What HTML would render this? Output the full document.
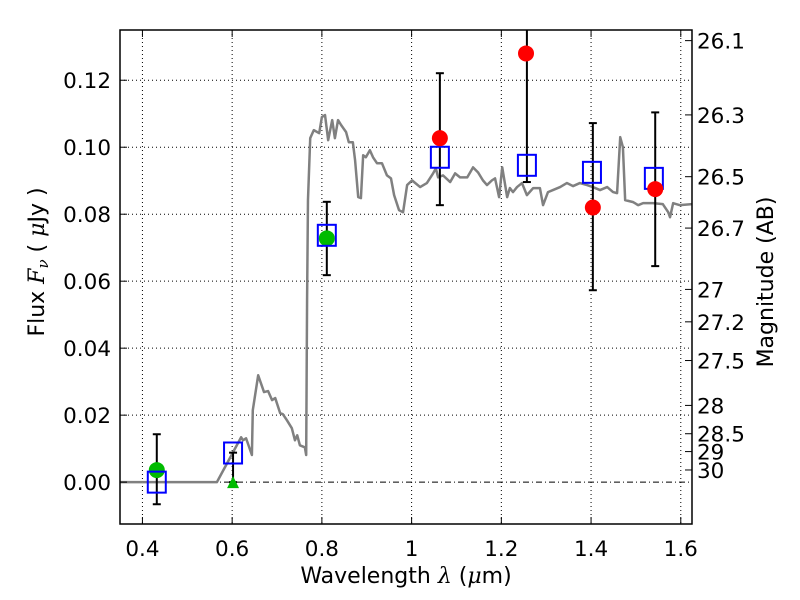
<!DOCTYPE html>
<html><head><meta charset="utf-8"><style>
html,body{margin:0;padding:0;background:#fff;}
svg{display:block;font-family:"DejaVu Sans","Liberation Sans",sans-serif;}
</style></head><body>
<svg id="chart" width="800" height="600" viewBox="0 0 800 600" xmlns="http://www.w3.org/2000/svg"></svg>
<script>
// ---- data ----
const specWave = [0.35,0.566,0.620,0.624,0.631,0.644,0.646,0.658,0.671,0.680,0.689,0.696,0.707,0.713,0.722,0.733,0.740,0.745,0.751,0.762,0.765,0.767,0.769,0.774,0.782,0.794,0.800,0.807,0.814,0.823,0.829,0.836,0.843,0.854,0.860,0.869,0.874,0.881,0.887,0.892,0.898,0.907,0.914,0.923,0.934,0.945,0.954,0.961,0.972,0.981,0.990,1.001,1.019,1.034,1.048,1.054,1.059,1.070,1.086,1.097,1.108,1.124,1.137,1.148,1.159,1.168,1.179,1.186,1.195,1.202,1.213,1.219,1.226,1.235,1.246,1.257,1.271,1.286,1.293,1.304,1.315,1.331,1.346,1.360,1.375,1.391,1.404,1.420,1.436,1.449,1.458,1.465,1.471,1.476,1.494,1.505,1.516,1.538,1.560,1.572,1.576,1.583,1.598,1.625];
const specFlux = [0,0,0.0134,0.0125,0.0131,0.0081,0.0215,0.0319,0.0269,0.0272,0.0245,0.0251,0.0206,0.0203,0.0185,0.0161,0.0125,0.014,0.011,0.0104,0.0081,0.0543,0.0842,0.1027,0.1051,0.1042,0.109,0.1096,0.1021,0.1081,0.1027,0.1081,0.1066,0.1045,0.1015,0.1015,0.0961,0.0851,0.0848,0.0976,0.097,0.0991,0.097,0.0952,0.0952,0.0916,0.0907,0.0857,0.0812,0.0806,0.0887,0.0901,0.0881,0.0893,0.0922,0.0937,0.091,0.0916,0.0896,0.0922,0.091,0.091,0.094,0.0925,0.0901,0.0887,0.0901,0.0907,0.0851,0.094,0.0851,0.0878,0.0866,0.0881,0.0893,0.0857,0.0878,0.0878,0.0827,0.0866,0.0872,0.0881,0.0893,0.0884,0.0893,0.0887,0.0881,0.0872,0.0881,0.0866,0.0863,0.103,0.1,0.0842,0.0836,0.0827,0.0833,0.0833,0.0830,0.0806,0.0791,0.0833,0.0827,0.083];
const modelWave = [0.432,0.602,0.811,1.063,1.257,1.402,1.540];
const modelFlux = [0,0.0087,0.0737,0.097,0.0946,0.0925,0.0907];
const greenWave = [0.432,0.811];
const greenFlux = [0.0036,0.0728];
const triWave = [0.602];
const triFlux = [0];
const redWave = [1.063,1.255,1.404,1.543];
const redFlux = [0.1027,0.128,0.082,0.0875];
const errWave = [0.432,0.602,0.811,1.063,1.257,1.404,1.543];
const errLow = [-0.0066,0,0.0618,0.0827,0.0896,0.0573,0.0645];
const errHigh = [0.0143,0.0088,0.0837,0.1221,0.166,0.1072,0.1104];
const xTicks = [0.4,0.6,0.8,1.0,1.2,1.4,1.6];
const xTickLabels = ["0.4","0.6","0.8","1","1.2","1.4","1.6"];
const yTicks = [0,0.02,0.04,0.06,0.08,0.10,0.12];
const yTickLabels = ["0.00","0.02","0.04","0.06","0.08","0.10","0.12"];
const magTicks = [26.1,26.3,26.5,26.7,27,27.2,27.5,28,28.5,29,30];
const magLabels = ["26.1","26.3","26.5","26.7","27","27.2","27.5","28","28.5","29","30"];

// ---- axes ----
const L=120,R=692,T=30,B=524;
const xMin=0.35,xMax=1.625,yMin=-0.0125,yMax=0.135;
const X=v=>L+(v-xMin)/(xMax-xMin)*(R-L);
const Y=v=>B-(v-yMin)/(yMax-yMin)*(B-T);
const NS="http://www.w3.org/2000/svg";
const svg=document.getElementById('chart');
function mk(tag,attrs,parent){const e=document.createElementNS(NS,tag);for(const k in attrs)e.setAttribute(k,attrs[k]);(parent||svg).appendChild(e);return e;}

const clip=mk('clipPath',{id:'pc'});mk('rect',{x:L,y:T,width:R-L,height:B-T},clip);

// grid
const grid=mk('g',{});


xTicks.forEach(v=>{mk('line',{x1:X(v),x2:X(v),y1:T,y2:B,stroke:'#000','stroke-width':1,'stroke-dasharray':'1,3'},grid);});
yTicks.forEach(v=>{if(v!==0)mk('line',{x1:L,x2:R,y1:Y(v),y2:Y(v),stroke:'#000','stroke-width':1,'stroke-dasharray':'1,3'},grid);});
const zl=mk('line',{x1:L,x2:R,y1:Y(0),y2:Y(0),stroke:'#000','stroke-width':1,'stroke-dasharray':'6,3,1,3'});



// spectrum
const sp=mk('polyline',{points:specWave.map((w,i)=>X(w)+','+Y(specFlux[i])).join(' '),fill:'none',stroke:'#808080','stroke-width':2.5,'stroke-linejoin':'round','clip-path':'url(#pc)'});



// error bars
errWave.forEach((w,i)=>{
  const g=mk('g',{'clip-path':'url(#pc)'});
  
  
  mk('line',{x1:X(w),x2:X(w),y1:Y(errLow[i]),y2:Y(errHigh[i]),stroke:'#000','stroke-width':2},g);
  mk('line',{x1:X(w)-4,x2:X(w)+4,y1:Y(errLow[i]),y2:Y(errLow[i]),stroke:'#000','stroke-width':2},g);
  mk('line',{x1:X(w)-4,x2:X(w)+4,y1:Y(errHigh[i]),y2:Y(errHigh[i]),stroke:'#000','stroke-width':2},g);
});
// green circles
greenWave.forEach((w,i)=>{
  const c=mk('circle',{cx:X(w),cy:Y(greenFlux[i]),r:8,fill:'#00bb00'});
  
  
});
triWave.forEach((w,i)=>{
  const x=X(w),y=Y(triFlux[i]);
  const t=mk('polygon',{points:`${x},${y-6} ${x-6},${y+6} ${x+6},${y+6}`,fill:'#00bb00'});
  
  
});
// model squares
modelWave.forEach((w,i)=>{
  const s=mk('rect',{x:X(w)-9,y:Y(modelFlux[i])-10.5,width:18,height:21,fill:'none',stroke:'#0000ff','stroke-width':2});
  
  
});
// red circles
redWave.forEach((w,i)=>{
  const c=mk('circle',{cx:X(w),cy:Y(redFlux[i]),r:8,fill:'#ff0000','clip-path':'url(#pc)'});
  
  
});

// frame
const fr=mk('rect',{x:L,y:T,width:R-L,height:B-T,fill:'none',stroke:'#000','stroke-width':1.5});



// x ticks
xTicks.forEach((v,i)=>{
  mk('line',{x1:X(v),x2:X(v),y1:B,y2:B-7,stroke:'#000'});
  mk('line',{x1:X(v),x2:X(v),y1:T,y2:T+7,stroke:'#000'});
  const t=mk('text',{x:X(v),y:B+32,'text-anchor':'middle','font-size':21.5});
  t.textContent=xTickLabels[i];
  
  
});
yTicks.forEach((v,i)=>{
  mk('line',{x1:L,x2:L+7,y1:Y(v),y2:Y(v),stroke:'#000'});
  const t=mk('text',{x:111,y:Y(v)+8,'text-anchor':'end','font-size':21.5});
  t.textContent=yTickLabels[i];
  
  
});
magTicks.forEach((m,i)=>{
  const y=Y(Math.pow(10,(23.9-m)/2.5));
  mk('line',{x1:R,x2:R-7,y1:y,y2:y,stroke:'#000'});
  const t=mk('text',{x:697,y:y+8,'font-size':21.5});
  t.textContent=magLabels[i];
  
  
});

// axis titles
const xt=mk('text',{x:406,y:583,'text-anchor':'middle','font-size':22});
xt.innerHTML='Wavelength  <tspan font-style="italic" font-family="DejaVu Serif, serif">λ</tspan> (<tspan font-style="italic" font-family="DejaVu Serif, serif">μ</tspan>m)';


const yt=mk('text',{x:0,y:0,'text-anchor':'middle','font-size':22,transform:'translate(44,262) rotate(-90)'});
yt.setAttribute('xml:space','preserve');
yt.innerHTML='Flux  <tspan font-style="italic" font-family="DejaVu Serif, serif">F</tspan><tspan font-style="italic" font-family="DejaVu Serif, serif" font-size="15" dy="4">ν</tspan><tspan dy="-4">  (  </tspan><tspan font-style="italic" font-family="DejaVu Serif, serif">μ</tspan>Jy )';


const rt=mk('text',{x:0,y:0,'text-anchor':'middle','font-size':22,transform:'translate(773,282) rotate(-90)'});
rt.textContent='Magnitude (AB)';


</script>
</body></html>
